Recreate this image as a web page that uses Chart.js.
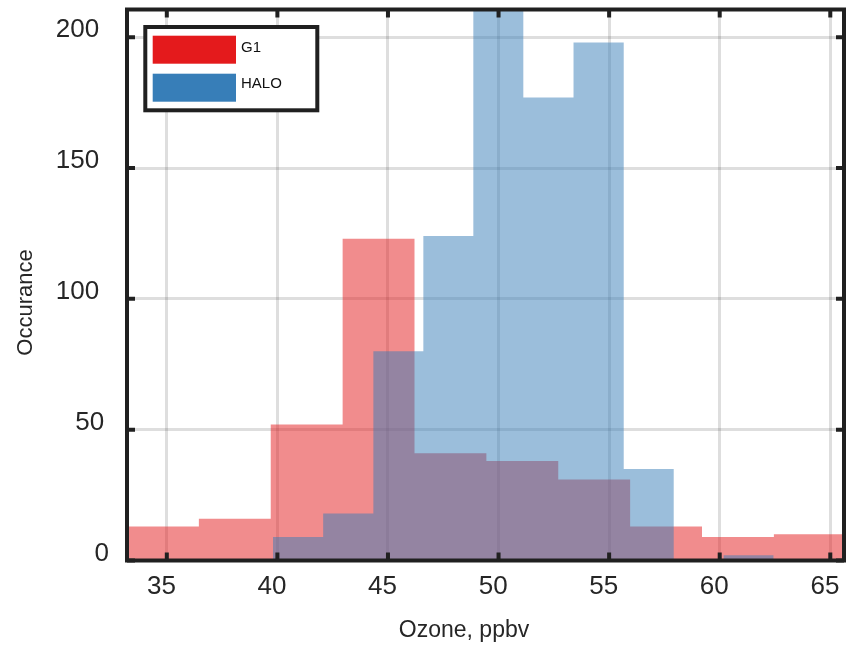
<!DOCTYPE html>
<html>
<head>
<meta charset="utf-8">
<style>
html,body{margin:0;padding:0;background:#fff;}
canvas{display:block;}
</style>
<script src="https://cdn.jsdelivr.net/npm/chart.js@4.4.1/dist/chart.umd.min.js"></script>
</head>
<body>
<canvas id="c" width="847" height="647"></canvas>
<script>
// ---- data ----
const seriesNames = ['G1', 'HALO'];
const g1BinEdges = [33.2, 36.45, 39.7, 42.95, 46.2, 49.45, 52.7, 55.95, 59.2, 62.45, 65.7];
const g1Counts = [13, 16, 52, 123, 41, 38, 31, 13, 9, 10];
const haloBinEdges = [39.8, 42.07, 44.34, 46.6, 48.86, 51.12, 53.39, 55.66, 57.92, 60.18, 62.44];
const haloCounts = [9, 18, 80, 124, 225, 177, 198, 35, 0, 2];
const xTickValues = [35, 40, 45, 50, 55, 60, 65];
const yTickValues = [0, 50, 100, 150, 200];
const xTitle = 'Ozone, ppbv';
const yTitle = 'Occurance';

const FONT = "'Liberation Sans', Arial, Helvetica, sans-serif";
const INK = '#262626';
const FRAME = '#202020';
const seriesColors = ['#e41a1c', '#377eb8'];
const seriesFills = ['rgba(228,26,28,0.5)', 'rgba(55,126,184,0.5)'];

// histogram outline: each bin gives its left and right corner
function histPoints(edges, counts) {
  const pts = [];
  counts.forEach((c, i) => {
    pts.push({x: edges[i], y: c});
    pts.push({x: edges[i + 1], y: c});
  });
  return pts;
}

const decor = {
  id: 'decor',
  afterDraw(chart) {
    const ctx = chart.ctx;
    const a = chart.chartArea;
    const xs = chart.scales.x, ys = chart.scales.y;
    ctx.save();

    // y tick labels
    ctx.fillStyle = INK;
    ctx.font = '26px ' + FONT;
    ctx.textAlign = 'left';
    ctx.textBaseline = 'alphabetic';
    yTickValues.forEach(v => {
      const y = ys.getPixelForValue(v);
      const t = String(v);
      const w = ctx.measureText(t).width;
      ctx.fillText(t, 114 - 1.34 * w, y);
    });

    // axis titles
    ctx.font = '23px ' + FONT;
    ctx.textAlign = 'center';
    ctx.fillText(xTitle, 464, 637);
    ctx.save();
    ctx.translate(32, 302.5);
    ctx.rotate(-Math.PI / 2);
    ctx.font = '22px ' + FONT;
    ctx.fillText(yTitle, 0, 0);
    ctx.restore();

    // frame
    ctx.strokeStyle = FRAME;
    ctx.lineWidth = 4;
    ctx.strokeRect(a.left, a.top, a.right - a.left, a.bottom - a.top);

    // inward tick marks
    ctx.beginPath();
    xTickValues.forEach(v => {
      const x = xs.getPixelForValue(v);
      ctx.moveTo(x, a.bottom); ctx.lineTo(x, a.bottom - 8);
      ctx.moveTo(x, a.top); ctx.lineTo(x, a.top + 8);
    });
    yTickValues.forEach(v => {
      const y = ys.getPixelForValue(v);
      ctx.moveTo(a.left, y); ctx.lineTo(a.left + 8, y);
      ctx.moveTo(a.right, y); ctx.lineTo(a.right - 8, y);
    });
    ctx.stroke();

    // legend
    ctx.fillStyle = '#ffffff';
    ctx.fillRect(145.3, 27, 172, 83.3);
    ctx.strokeRect(145.3, 27, 172, 83.3);
    const swY = [35.7, 73.7];
    const txY = [52, 87.5];
    ctx.font = '15px ' + FONT;
    ctx.textAlign = 'left';
    seriesNames.forEach((n, i) => {
      ctx.fillStyle = seriesColors[i];
      ctx.fillRect(152.7, swY[i], 83.3, 28);
      ctx.fillStyle = '#111';
      ctx.fillText(n, 241, txY[i]);
    });
    ctx.restore();
  }
};

const gridOpts = {color: 'rgba(0,0,0,0.13)', lineWidth: 3, drawTicks: false};

new Chart(document.getElementById('c'), {
  type: 'line',
  data: {
    datasets: [
      {
        label: seriesNames[0],
        data: histPoints(g1BinEdges, g1Counts),
        backgroundColor: seriesFills[0],
        borderColor: 'rgba(0,0,0,0)',
        borderWidth: 0,
        pointRadius: 0,
        tension: 0,
        fill: 'origin',
        order: 2
      },
      {
        label: seriesNames[1],
        data: histPoints(haloBinEdges, haloCounts),
        backgroundColor: seriesFills[1],
        borderColor: 'rgba(0,0,0,0)',
        borderWidth: 0,
        pointRadius: 0,
        tension: 0,
        fill: 'origin',
        order: 1
      }
    ]
  },
  options: {
    responsive: false,
    animation: false,
    devicePixelRatio: 1,
    layout: {padding: {top: 9.5, right: 3, left: 0, bottom: 0}},
    plugins: {legend: {display: false}, tooltip: {enabled: false}},
    scales: {
      x: {
        type: 'linear',
        min: 33.2,
        max: 65.62,
        z: 1,
        afterBuildTicks: s => { s.ticks = xTickValues.map(v => ({value: v})); },
        afterFit: s => { s.height = 86.5; s.paddingLeft = 0; s.paddingRight = 0; },
        grid: gridOpts,
        border: {display: false},
        ticks: {
          font: {family: FONT, size: 26},
          color: INK,
          labelOffset: -5.4,
          padding: 11,
          maxRotation: 0,
          autoSkip: false
        }
      },
      y: {
        type: 'linear',
        min: 0,
        max: 210.6,
        z: 1,
        afterBuildTicks: s => { s.ticks = yTickValues.map(v => ({value: v})); },
        afterFit: s => { s.width = 127; s.paddingTop = 0; s.paddingBottom = 0; },
        grid: gridOpts,
        border: {display: false},
        ticks: {display: false}
      }
    }
  },
  plugins: [decor]
});
</script>
</body>
</html>
